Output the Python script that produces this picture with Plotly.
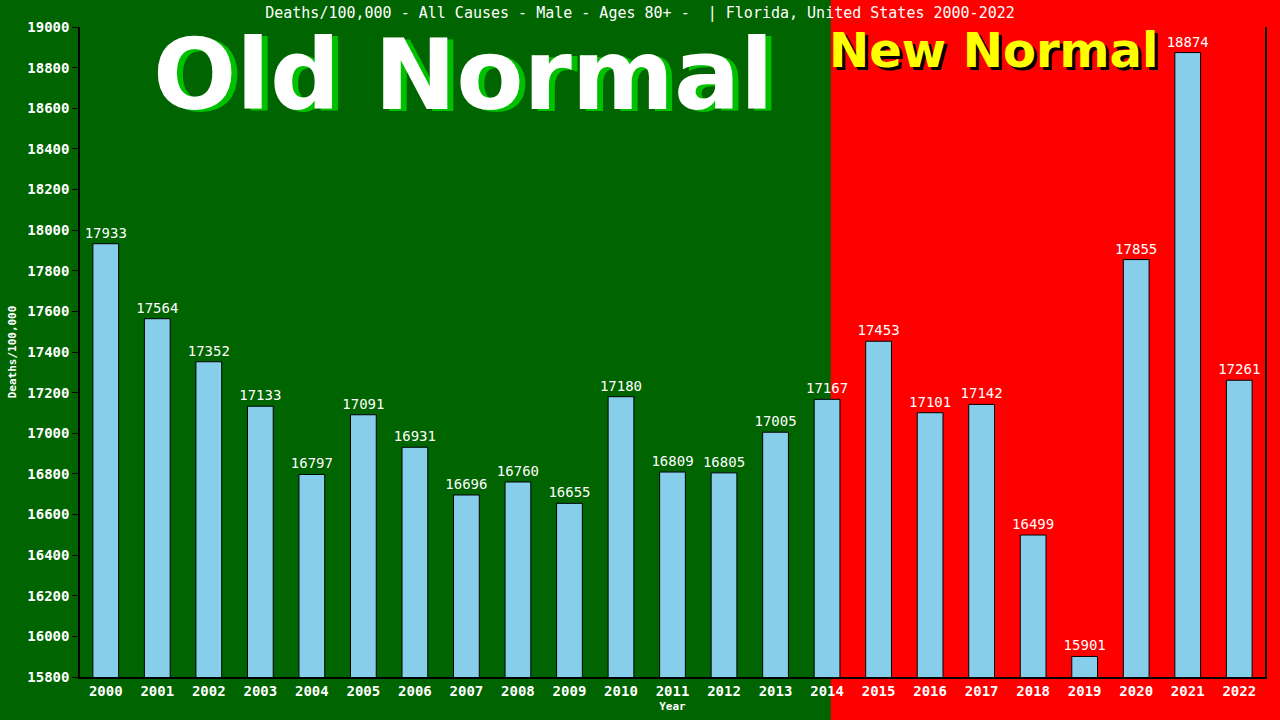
import plotly.graph_objects as go

# data
years = [str(y) for y in range(2000, 2023)]
deaths = [17933, 17564, 17352, 17133, 16797, 17091, 16931, 16696, 16760, 16655,
          17180, 16809, 16805, 17005, 17167, 17453, 17101, 17142, 16499, 15901,
          17855, 18874, 17261]
y_min, y_max = 15800, 19000

green = "#006400"
red = "#FF0000"
sky = "#87CEEB"
mono = "DejaVu Sans Mono"

fig = go.Figure()

fig.add_trace(go.Bar(
    x=years,
    y=deaths,
    width=0.5,
    marker=dict(color=sky, line=dict(color="black", width=1)),
    text=[str(v) for v in deaths],
    textposition="outside",
    constraintext="none",
    textfont=dict(family=mono, size=14, color="white"),
    cliponaxis=False,
))

# green "old normal" block, red covers the rest via paper background
split = (830 - 78) / (1265 - 78)
fig.add_shape(type="rect", xref="paper", yref="paper",
              x0=-0.2, x1=split, y0=-0.2, y1=1.2,
              fillcolor=green, line=dict(width=0), layer="below")

# big labels with drop shadows
def shadow_text(txt, x, y, size, fg, bg, dx, dy):
    for col, sx, sy in [(bg, dx, -dy), (fg, 0, 0)]:
        fig.add_annotation(text=txt, xref="paper", yref="paper", x=x, y=y,
                           xanchor="center", yanchor="middle", showarrow=False,
                           xshift=sx, yshift=sy,
                           font=dict(family="DejaVu Sans", size=size, color=col, weight="bold"))

shadow_text("Old Normal", (462 - 78) / 1187, (677 - 75) / 650, 98, "white", "#00C000", 6, 2)
shadow_text("New Normal", (993 - 78) / 1187, (677 - 50) / 650, 48, "#FFFF00", "black", 3, 3)

fig.update_xaxes(
    showline=True, linecolor="black", linewidth=1.5,
    ticks="", showgrid=False, automargin=False,
    tickfont=dict(family=mono, size=14, color="white", weight="bold"),
    title=dict(text="Year", font=dict(family=mono, size=11, color="white", weight="bold"), standoff=5),
)
fig.update_yaxes(
    range=[y_min, y_max], dtick=200, tickformat="d",
    showline=True, linecolor="black", linewidth=1.5, mirror=True,
    ticks="outside", ticklen=6, tickcolor="black", showgrid=False, zeroline=False,
    tickfont=dict(family=mono, size=14, color="white", weight="bold"),
    title=dict(text="Deaths/100,000", font=dict(family=mono, size=11, color="white", weight="bold"), standoff=8),
)

fig.update_layout(
    title=dict(text="Deaths/100,000 - All Causes - Male - Ages 80+ -  | Florida, United States 2000-2022",
               x=0.5, xanchor="center", y=0.982, yanchor="middle",
               font=dict(family=mono, size=15, color="white")),
    width=1280, height=720,
    margin=dict(l=78, r=15, t=27, b=43),
    paper_bgcolor=red,
    plot_bgcolor="rgba(0,0,0,0)",
    showlegend=False,
    bargap=0.5,
)

fig.write_html("out.html", config={"displayModeBar": False},
               post_script="document.body.style.margin='0';")
